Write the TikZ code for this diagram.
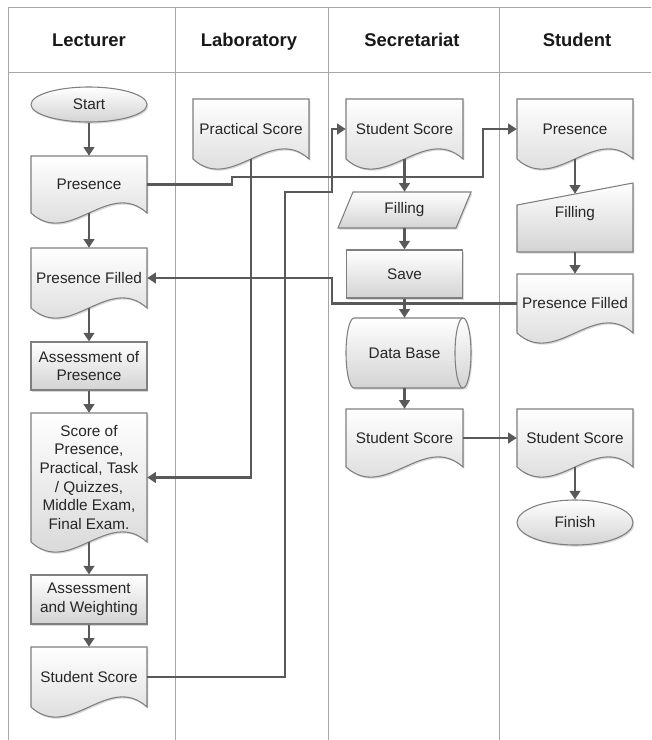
\documentclass[tikz,border=0pt]{standalone}
\usepackage{fontspec}
\setmainfont{Liberation Sans}
\usetikzlibrary{shapes.geometric,arrows.meta,calc,shadows}
\definecolor{linecol}{HTML}{A6A6A6}
\definecolor{bordcol}{HTML}{7F7F7F}
\definecolor{conncol}{HTML}{595959}
\definecolor{fillbot}{HTML}{D3D3D3}
\definecolor{txtcol}{HTML}{262626}
\tikzset{
  boxfill/.style={draw=bordcol, line width=0.8pt, top color=white, bottom color=fillbot,
    drop shadow={shadow xshift=1pt, shadow yshift=-1.2pt, opacity=0.25, fill=black!60}},
  txt/.style={text=txtcol, font=\fontsize{11.5}{14}\selectfont, align=center, inner sep=0pt},
  rectn/.style={boxfill, txt, rectangle, minimum width=87pt, minimum height=36pt},
  term/.style={boxfill, txt, ellipse, minimum width=87pt},
  conn/.style={draw=conncol, line width=1.6pt, -{Triangle[length=6.5pt,width=8pt]}},
  lane/.style={draw=linecol, line width=0.7pt},
  head/.style={font=\fontsize{13.8}{16}\selectfont\bfseries, text=black!90, inner sep=0pt, anchor=base}
}
% document shape: name, x0, x1, top, straight bottom, text
\newcommand\DocN[6]{%
  \path[boxfill] (#2,#4) -- (#3,#4) -- (#3,#5) .. controls ({#2+2*(#3-#2)/3},{#5-35}) and ({#2+(#3-#2)/3},{#5+35}) .. (#2,#5) -- cycle;
  \node[txt, minimum width={(#3-#2)*0.75pt}, minimum height={(#5-#4)*0.75pt}] (#1) at ({(#2+#3)/2},{(#4+#5)/2}) {#6};
}
\begin{document}
\begin{tikzpicture}[x=0.75pt,y=-0.75pt]
\useasboundingbox (0,0) rectangle (651,740);
\fill[white] (0,0) rectangle (651,740);

% lanes
\draw[lane] (8,7) -- (651,7);
\draw[lane] (8,72) -- (651,72);
\draw[lane] (8,7) -- (8,740);
\draw[lane] (175,7) -- (175,740);
\draw[lane] (328,7) -- (328,740);
\draw[lane] (499,7) -- (499,740);

\node[head] (hlec) at (89,46) {Lecturer};
\node[head] (hlab) at (249,46) {Laboratory};
\node[head] (hsec) at (412,46) {Secretariat};
\node[head] (hstu) at (577,46) {Student};

% Lecturer
\node[term, minimum height=26.25pt] (start) at (89,104.5) {Start};
\DocN{pres1}{31}{147}{156}{213}{Presence}
\DocN{pf1}{31}{147}{248}{308}{Presence Filled}
\node[rectn] (aop) at (89,366) {Assessment of\\Presence};
\DocN{score}{31}{147}{413}{542}{Score of\\Presence,\\Practical, Task\\/ Quizzes,\\Middle Exam,\\Final Exam.}
\node[rectn, minimum height=36.75pt] (aw) at (89,599.5) {Assessment\\and Weighting};
\DocN{ss1}{31}{147}{647}{707}{Student Score}

% Laboratory
\DocN{prac}{193}{309}{99}{159}{Practical Score}

% Secretariat
\DocN{ss2}{346}{463}{99}{159}{Student Score}
\path[boxfill] (353,192) -- (471,192) -- (456,228) -- (338,228) -- cycle;
\node[txt, minimum width=87pt, minimum height=27pt] (fill1) at (404.5,210) {Filling};
\node[rectn] (save) at (404.5,274) {Save};
\path[boxfill] (354,318) -- (463,318) arc[start angle=90, end angle=-90, x radius=6pt, y radius=26.25pt]
  -- (354,388) arc[start angle=270, end angle=90, x radius=6pt, y radius=26.25pt] -- cycle;
\draw[draw=bordcol, line width=0.8pt] (463,318) arc[start angle=90, end angle=270, x radius=6pt, y radius=26.25pt];
\node[txt, minimum width=87pt, minimum height=52.5pt] (db) at (404.5,353) {Data Base};
\DocN{ss3}{346}{463}{409}{467}{Student Score}

% Student
\DocN{pres2}{517}{633}{99}{159}{Presence}
\path[boxfill] (517,205) -- (633,183) -- (633,252) -- (517,252) -- cycle;
\node[txt, minimum width=87pt, minimum height=43.5pt] (fill2) at (575,223) {\raisebox{4.5pt}[0pt][0pt]{Filling}};
\DocN{pf2}{517}{633}{274}{333}{Presence Filled}
\DocN{ss4}{517}{633}{409}{467}{Student Score}
\node[term, minimum height=33.75pt] (finish) at (575,522.5) {Finish};

% connectors
\draw[conn] (start.south) -- (pres1.north);
\draw[conn] (pres1.south) -- (pf1.north);
\draw[conn] (pf1.south) -- (aop.north);
\draw[conn] (aop.south) -- (score.north);
\draw[conn] (score.south) -- (aw.north);
\draw[conn] (aw.south) -- (ss1.north);
\draw[conn] (ss2.south) -- (fill1.north);
\draw[conn] (fill1.south) -- (save.north);
\draw[conn] (save.south) -- (db.north);
\draw[conn] (db.south) -- (ss3.north);
\draw[conn] (pres2.south) -- (fill2.north);
\draw[conn] (fill2.south) -- (pf2.north);
\draw[conn] (ss4.south) -- (finish.north);
\draw[conn] (ss3.east) -- (ss4.west);
\draw[conn] (pres1.east) -| (232,177) -| (483,129) -- (pres2.west);
\draw[conn] (ss1.east) -| (285,192) -| (332,129) -- (ss2.west);
\draw[conn] (prac.south) |- (score.east);
\draw[conn] (pf2.west) -- ++(-185,0) |- (pf1.east);
\end{tikzpicture}
\end{document}
